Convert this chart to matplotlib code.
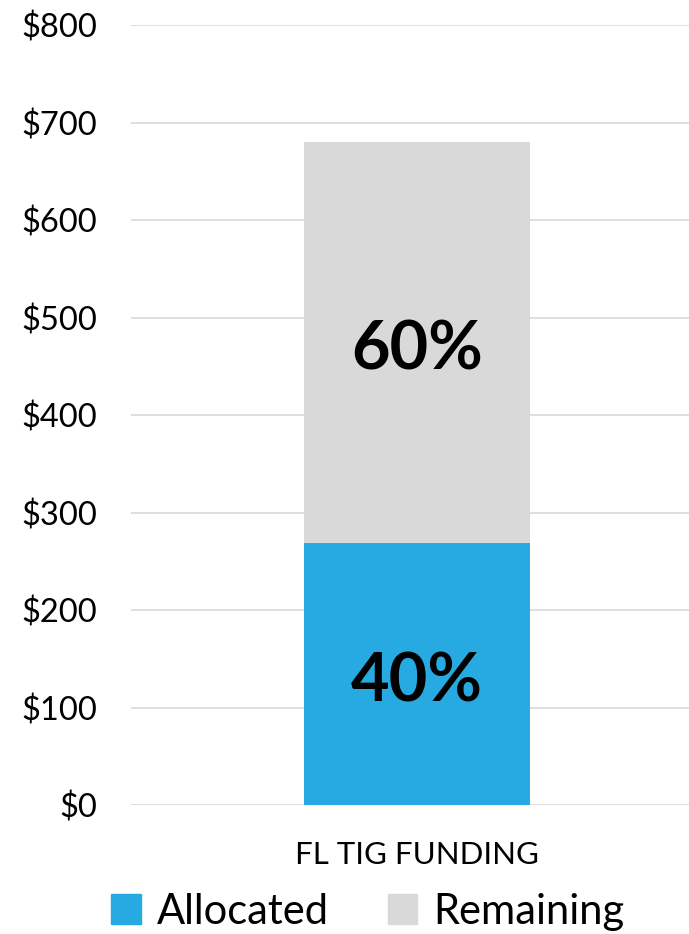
import matplotlib
matplotlib.use("Agg")
import matplotlib.pyplot as plt
from matplotlib.patches import Patch

categories = ["FL TIG FUNDING"]
allocated = [269]
remaining = [411]
alloc_pct = ["40%"]
remain_pct = ["60%"]
yticks = [0, 100, 200, 300, 400, 500, 600, 700, 800]

blue = "#27AAE1"
grey = "#D9D9D9"

plt.rcParams["font.family"] = ["Lato", "DejaVu Sans"]

fig = plt.figure(figsize=(6.89, 9.34), dpi=100)
ax = fig.add_axes([0.190, 0.138, 0.810, 0.835])

x = [0]
ax.bar(x, allocated, width=0.405, color=blue, zorder=3)
ax.bar(x, remaining, bottom=allocated, width=0.405, color=grey, zorder=3)

# labels in the middle of each segment (nudged down a little)
for i in range(len(categories)):
    ax.annotate(alloc_pct[i], (x[i], allocated[i] / 2), xytext=(0, -6),
                textcoords="offset points", ha="center", va="center",
                fontsize=48, fontweight="bold", color="black", zorder=4)
    ax.annotate(remain_pct[i], (x[i], allocated[i] + remaining[i] / 2), xytext=(0, -6),
                textcoords="offset points", ha="center", va="center",
                fontsize=48, fontweight="bold", color="black", zorder=4)

ax.set_xlim(-0.5125, 0.4875)
ax.set_ylim(0, 800)
ax.set_yticks(yticks)
ax.set_yticklabels(["$" + str(v) for v in yticks], fontsize=23.5)
ax.set_xticks(x)
ax.set_xticklabels(categories, fontsize=22.5)
ax.tick_params(axis="y", length=0, pad=24)
ax.tick_params(axis="x", length=0, pad=26)
ax.grid(axis="y", color=grey, linewidth=1.2, zorder=0)
for s in ax.spines.values():
    s.set_visible(False)

handles = [Patch(color=blue, label="Allocated"), Patch(color=grey, label="Remaining")]
fig.legend(handles=handles, loc="center", bbox_to_anchor=(0.534, 0.024), ncol=2,
           frameon=False, fontsize=30, handlelength=0.7, handleheight=0.7,
           handletextpad=0.4, columnspacing=1.4)

fig.savefig("out.png", dpi=100)
